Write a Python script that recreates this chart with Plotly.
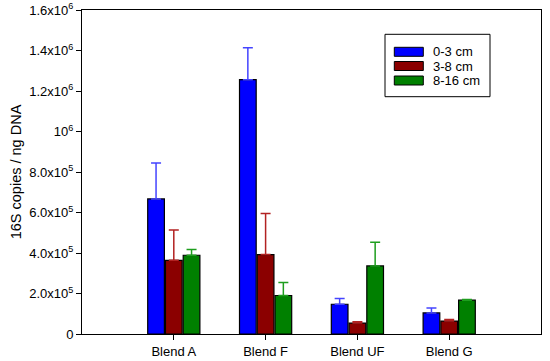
import plotly.graph_objects as go

categories = ["Blend A", "Blend F", "Blend UF", "Blend G"]
series_names = ["0-3 cm", "3-8 cm", "8-16 cm"]
vals_0_3 = [667000, 1256000, 147000, 104000]
err_0_3 = [178000, 158000, 28000, 24000]
vals_3_8 = [364000, 392000, 54000, 64000]
err_3_8 = [150000, 203000, 7000, 7000]
vals_8_16 = [389000, 190000, 336000, 167000]
err_8_16 = [28000, 64000, 117000, 3000]
y_tickvals = [0, 200000, 400000, 600000, 800000, 1000000, 1200000, 1400000, 1600000]
y_ticktext = ["0", "2.0x10<sup>5</sup>", "4.0x10<sup>5</sup>", "6.0x10<sup>5</sup>",
              "8.0x10<sup>5</sup>", "10<sup>6</sup>", "1.2x10<sup>6</sup>",
              "1.4x10<sup>6</sup>", "1.6x10<sup>6</sup>"]

fill_colors = ["#0000FF", "#8B0000", "#008000"]
err_colors = ["#4444FF", "#B22222", "#1E9E1E"]
xpos = [1, 2, 3, 4]

W, H = 550, 361
ML, MR, MT, MB = 82, 9, 10, 27
PW, PH = W - ML - MR, H - MT - MB


def px_x(p):
    return (p - ML) / PW


def px_y(p):
    return (H - MB - p) / PH


fig = go.Figure()
for name, vals, errs, fc, ec in zip(series_names, [vals_0_3, vals_3_8, vals_8_16],
                                    [err_0_3, err_3_8, err_8_16], fill_colors, err_colors):
    fig.add_trace(go.Bar(
        x=xpos, y=vals, name=name, showlegend=False,
        marker=dict(color=fc, line=dict(color="black", width=1.2)),
        error_y=dict(type="data", symmetric=False, array=errs,
                     arrayminus=[0] * len(errs), color=ec, thickness=1.5, width=5),
    ))

# legend drawn as a boxed key (paper coordinates)
shapes = [dict(type="rect", xref="paper", yref="paper",
               x0=px_x(385), x1=px_x(490), y0=px_y(96.7), y1=px_y(34.3),
               line=dict(color="black", width=1), fillcolor="white", layer="above")]
annotations = []
row_tops = [47.3, 61.5, 76.0]
for i, (name, fc) in enumerate(zip(series_names, fill_colors)):
    top = row_tops[i]
    shapes.append(dict(type="rect", xref="paper", yref="paper",
                       x0=px_x(394.3), x1=px_x(423.3), y0=px_y(top + 9), y1=px_y(top),
                       line=dict(color="black", width=1), fillcolor=fc, layer="above"))
    annotations.append(dict(xref="paper", yref="paper", x=px_x(431), y=px_y(top + 4.5),
                            xanchor="left", yanchor="middle", text=name, showarrow=False,
                            font=dict(size=13)))

font_family = "Liberation Sans, Arial, sans-serif"
fig.update_layout(
    width=W, height=H,
    margin=dict(l=ML, r=MR, t=MT, b=MB, pad=0),
    paper_bgcolor="white", plot_bgcolor="white",
    barmode="group", bargap=0.42, bargroupgap=0.06,
    font=dict(family=font_family, size=13, color="black"),
    showlegend=False,
    shapes=shapes, annotations=annotations,
    xaxis=dict(range=[0, 5], tickvals=xpos, ticktext=categories,
               ticks="outside", ticklen=5, tickcolor="black", automargin=False,
               showline=True, linecolor="black", linewidth=1, mirror=True,
               showgrid=False, zeroline=False),
    yaxis=dict(range=[0, 1600000], tickvals=y_tickvals, ticktext=y_ticktext,
               ticks="outside", ticklen=5, tickcolor="black", automargin=False,
               showline=True, linecolor="black", linewidth=1, mirror=True,
               showgrid=False, zeroline=False,
               title=dict(text="16S copies / ng DNA", standoff=4, font=dict(size=14.5))),
)

fig.write_html("out.html", config={"displayModeBar": False},
               post_script="document.body.style.margin='0';")
